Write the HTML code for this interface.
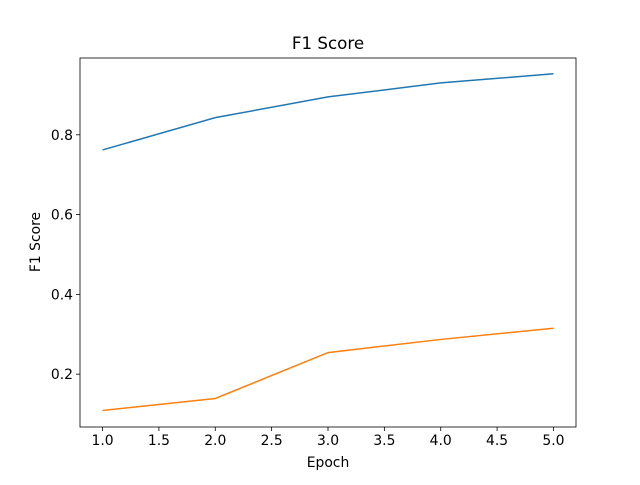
<!DOCTYPE html>
<html><head><meta charset="utf-8"><style>
body{margin:0;background:#fff;font-family:"Liberation Sans","DejaVu Sans",sans-serif}
</style></head><body>
<svg id="chart" width="640" height="480" xmlns="http://www.w3.org/2000/svg" font-family="DejaVu Sans, Liberation Sans, sans-serif"></svg>
<script>
const epochs=[1,2,3,4,5];
const seriesBlue=[0.762,0.843,0.895,0.930,0.953];
const seriesOrange=[0.109,0.139,0.254,0.287,0.315];
const xTicks=[1.0,1.5,2.0,2.5,3.0,3.5,4.0,4.5,5.0];
const yTicks=[0.2,0.4,0.6,0.8];
const L=80,R=576,T=58,B=427;
const xMin=0.8,xMax=5.2,yMin=0.0675,yMax=0.9925;
const sx=v=>L+(v-xMin)/(xMax-xMin)*(R-L);
const sy=v=>B-(v-yMin)/(yMax-yMin)*(B-T);
const svg=document.getElementById('chart');
const NS='http://www.w3.org/2000/svg';
function mk(t,a,txt){const e=document.createElementNS(NS,t);for(const k in a)e.setAttribute(k,a[k]);if(txt!==undefined)e.textContent=txt;svg.appendChild(e);return e;}
let e;
e=mk('text',{x:328,y:49,'text-anchor':'middle','font-size':16.7},'F1 Score');


xTicks.forEach(v=>{
 e=mk('line',{x1:sx(v),x2:sx(v),y1:B,y2:B+4,stroke:'#000','stroke-width':0.8});
 
 
 e=mk('text',{x:sx(v),y:B+18,'text-anchor':'middle','font-size':13.9},v.toFixed(1));
 
 
});
yTicks.forEach(v=>{
 e=mk('line',{x1:L-4,x2:L,y1:sy(v),y2:sy(v),stroke:'#000','stroke-width':0.8});
 
 
 e=mk('text',{x:L-7,y:sy(v)+5,'text-anchor':'end','font-size':13.9},v.toFixed(1));
 
 
});
e=mk('text',{x:328,y:467,'text-anchor':'middle','font-size':13.9},'Epoch');


e=mk('text',{x:40,y:242,'text-anchor':'middle','font-size':13.9,transform:'rotate(-90 40 242)'},'F1 Score');


function line(d,c,n){
 e=mk('polyline',{points:d.map((v,i)=>sx(epochs[i])+','+sy(v)).join(' '),fill:'none',stroke:c,'stroke-width':1.5});
 
 
}
line(seriesBlue,'#1f77b4','blue-series-line');
line(seriesOrange,'#ff7f0e','orange-series-line');
e=mk('rect',{x:L,y:T,width:R-L,height:B-T,fill:'none',stroke:'#000','stroke-width':0.8});


</script>
</body></html>
